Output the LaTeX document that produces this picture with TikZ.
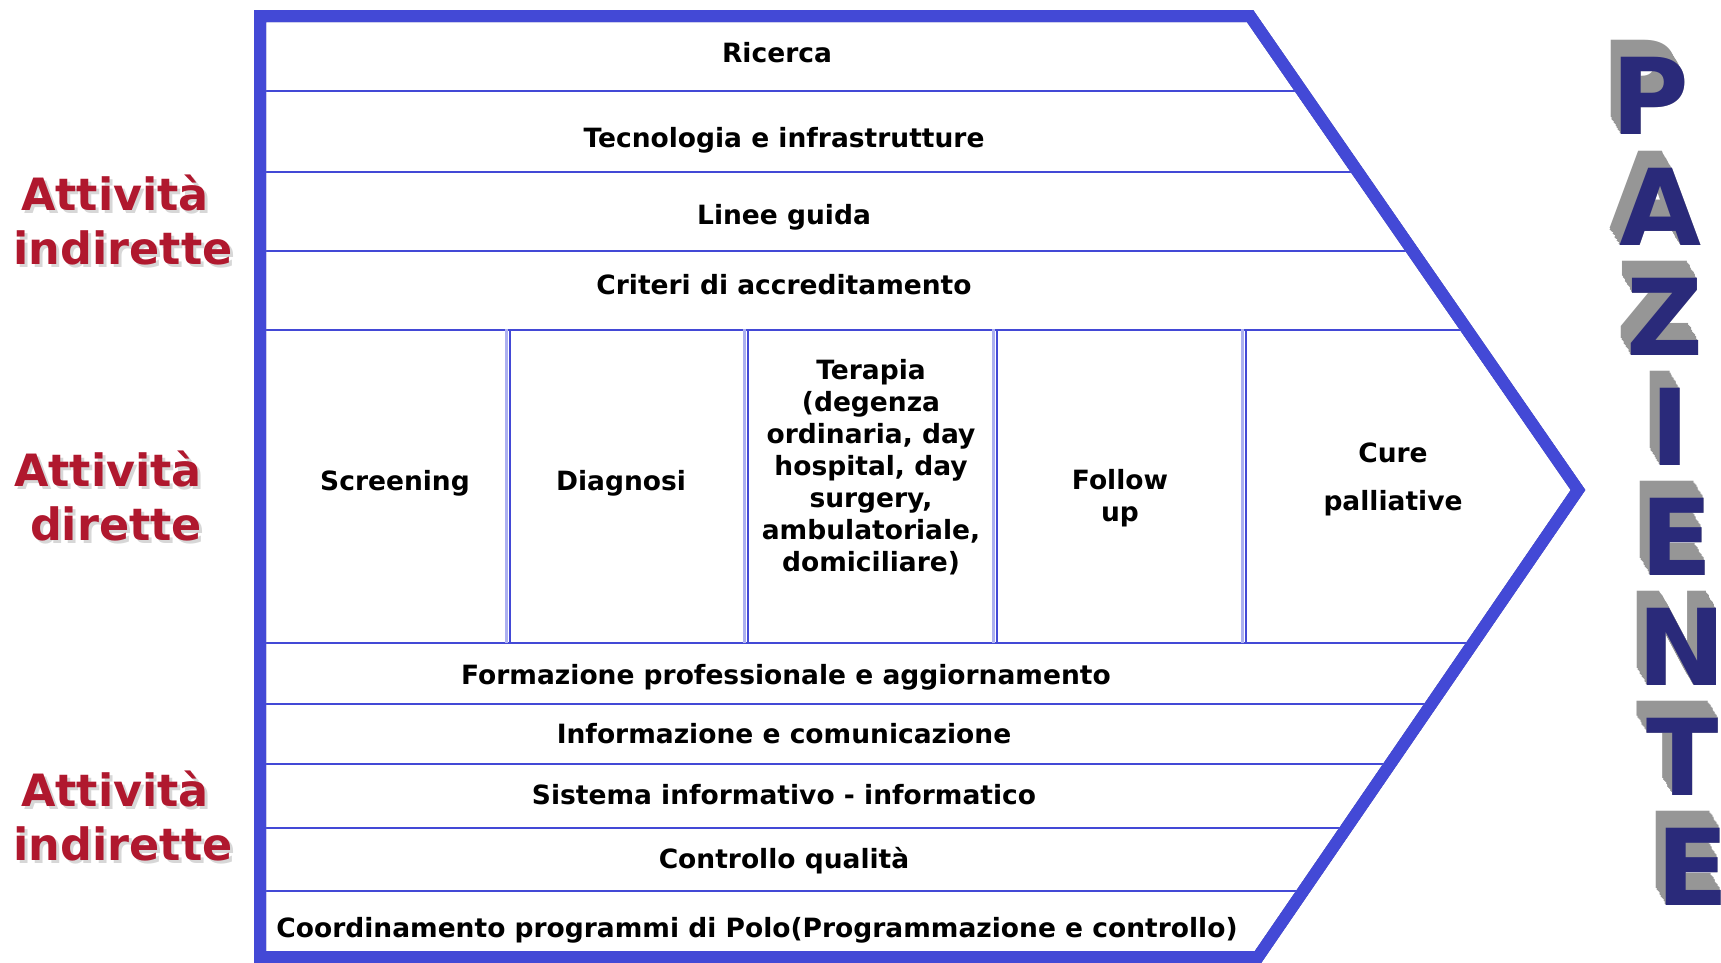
\documentclass[tikz,border=0pt]{standalone}
\usepackage{fontspec}
\setmainfont{DejaVu Sans}
\usetikzlibrary{calc}

\definecolor{frameblue}{RGB}{67,73,214}
\definecolor{framelight}{RGB}{168,172,238}
\definecolor{framedark}{RGB}{85,88,170}
\definecolor{rulelight}{RGB}{172,176,240}
\definecolor{labelred}{RGB}{176,24,46}
\definecolor{labelshadow}{RGB}{215,215,215}
\definecolor{letterfront}{RGB}{42,42,122}
\definecolor{letterside}{RGB}{150,150,150}

\begin{document}
\begin{tikzpicture}[x=1pt,y=-1pt,
  band/.style={font=\bfseries\fontsize{26.5}{32}\selectfont, align=center, inner sep=0pt},
  sidelabel/.style={font=\bfseries\fontsize{44.5}{54}\selectfont, align=center, inner sep=0pt, text=labelred},
  sideshadow/.style={font=\bfseries\fontsize{44.5}{54}\selectfont, align=center, inner sep=0pt, text=labelshadow},
  bigletter/.style={font=\bfseries\fontsize{106}{106}\selectfont, inner sep=0pt},
  rule/.style={draw=frameblue, line width=2pt},
  frameline/.style={line width=12pt, line join=miter}
]
\useasboundingbox (0,0) rectangle (1721,962);
\fill[white] (0,0) rectangle (1721,962);

% corners of the arrow-shaped frame (centre of the thick border)
\coordinate (TL) at (260,16);
\coordinate (TR) at (1250,16);
\coordinate (TIP) at (1578,490);
\coordinate (BR) at (1258,957);
\coordinate (BL) at (260,957);

% horizontal separators, clipped to the inside of the frame
\begin{scope}
  \clip (TL) -- (TR) -- (TIP) -- (BR) -- (BL) -- cycle;
  \foreach \yy in {91,172,251,330,643,704,764,828,891} {
    \draw[rule] (260,\yy) -- (1700,\yy);
  }
\end{scope}

% vertical separators between the direct activities
\foreach \xx in {510,748,997,1246} {
  \draw[draw=rulelight, line width=3pt] (\xx-4,329) -- (\xx-4,643);
  \draw[draw=frameblue, line width=2.5pt] (\xx,331) -- (\xx,643);
}

% bevelled thick frame
\draw[frameline, framelight, shift={(-4,-4)}] (TL) -- (TR) -- (TIP) -- (BR) -- (BL) -- cycle;
\draw[frameline, framedark, shift={(2,2)}] (TL) -- (TR) -- (TIP) -- (BR) -- (BL) -- cycle;
\draw[frameline, frameblue] (TL) -- (TR) -- (TIP) -- (BR) -- (BL) -- cycle;

% indirect activities (upper bands)
\node[band] (ricerca) at (777,53) {Ricerca};
\node[band] (tecno) at (784,140) {Tecnologia e infrastrutture};
\node[band] (linee) at (784,217) {Linee guida};
\node[band] (criteri) at (784,285) {Criteri di accreditamento};

% direct activities (columns)
\node[band] (screen) at (395,483) {Screening};
\node[band] (diagn) at (621,483) {Diagnosi};
\node[band] (terapia) at (871,467) {Terapia\\(degenza\\ordinaria, day\\hospital, day\\surgery,\\ambulatoriale,\\domiciliare)};
\node[band] (follow) at (1120,498) {Follow\\up};
\node[band, font=\bfseries\fontsize{26.5}{48}\selectfont] (cure) at (1393,479) {Cure\\palliative};

% indirect activities (lower bands)
\node[band] (formaz) at (786,677) {Formazione professionale e aggiornamento};
\node[band] (inform) at (784,734) {Informazione e comunicazione};
\node[band] (sistema) at (784,795) {Sistema informativo - informatico};
\node[band] (qualita) at (784,861) {Controllo qualità};
\node[band] (coord) at (757,930) {Coordinamento programmi di Polo(Programmazione e controllo)};

% side labels with a soft shadow
\node[sideshadow] at (126,223) {Attività\kern16pt\\indirette};
\node[sidelabel] (indA) at (123,220) {Attività\kern16pt\\indirette};
\node[sideshadow] at (119,499) {Attività\kern16pt\\dirette};
\node[sidelabel] (dir) at (116,496) {Attività\kern16pt\\dirette};
\node[sideshadow] at (126,819) {Attività\kern16pt\\indirette};
\node[sidelabel] (indB) at (123,816) {Attività\kern16pt\\indirette};

% extruded vertical title
\foreach \ch/\lx/\ly [count=\i] in {P/1650/96, A/1660/207, Z/1665/317, I/1670/427, E/1677/537, N/1682/647, T/1683/757, E/1693/867} {
  \foreach \k in {0,...,12} {
    \node[bigletter, text=letterside] at ({\lx-10+\k*10/12},{\ly-17+\k*17/12}) {\ch};
  }
  \node[bigletter, text=letterfront] (L\i) at (\lx,\ly) {\ch};
}
\end{tikzpicture}
\end{document}
